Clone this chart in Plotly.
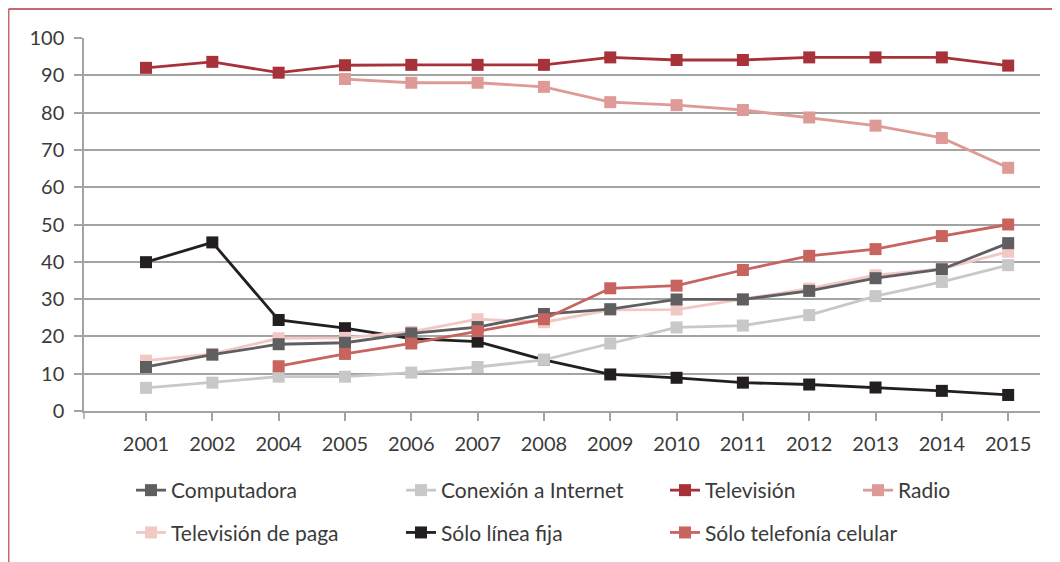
import plotly.graph_objects as go

YEARS = ["2001", "2002", "2004", "2005", "2006", "2007", "2008",
         "2009", "2010", "2011", "2012", "2013", "2014", "2015"]

COMPUTADORA = [11.8, 15.1, 17.9, 18.3, 20.8, 22.5, 26.0, 27.3, 29.9, 29.9, 32.2, 35.6, 38.0, 45.0]
INTERNET    = [6.2, 7.6, 9.2, 9.2, 10.3, 11.8, 13.7, 18.1, 22.4, 22.9, 25.7, 30.8, 34.6, 39.1]
TELEVISION  = [92.0, 93.6, 90.7, 92.7, 92.8, 92.8, 92.8, 94.8, 94.1, 94.1, 94.8, 94.8, 94.8, 92.6]
RADIO       = [None, None, None, 89.0, 88.0, 88.0, 86.9, 82.8, 82.0, 80.7, 78.7, 76.5, 73.2, 65.2]
TV_PAGA     = [13.5, 15.3, 19.5, 19.6, 21.2, 24.6, 23.8, 27.1, 27.2, 30.0, 32.8, 36.4, 38.1, 42.7]
LINEA_FIJA  = [39.9, 45.2, 24.4, 22.2, 19.4, 18.6, 13.7, 9.8, 8.9, 7.6, 7.1, 6.3, 5.4, 4.3]
CELULAR     = [None, None, 12.0, 15.3, 18.1, 21.4, 24.6, 32.9, 33.6, 37.8, 41.6, 43.4, 46.9, 50.0]

FONT = "Lato"
TEXT = "#3a3a3a"
GRID = "#a3a3a3"
FRAME = "#c9686c"

# (name, values, colour, legend column, rank) - listed in drawing order
SERIES = [
    ("Sólo línea fija",          LINEA_FIJA,  "#231f20", "legend2", 2),
    ("Televisión de paga",       TV_PAGA,     "#f2c8c5", "legend",  2),
    ("Conexión a Internet",      INTERNET,    "#c8c8c9", "legend2", 1),
    ("Computadora",              COMPUTADORA, "#5f5f61", "legend",  1),
    ("Sólo telefonía celular",   CELULAR,     "#c8645f", "legend3", 2),
    ("Radio",                    RADIO,       "#de9a96", "legend4", 1),
    ("Televisión",               TELEVISION,  "#a8323a", "legend3", 1),
]

fig = go.Figure()
for name, vals, color, leg, rank in SERIES:
    fig.add_trace(go.Scatter(
        x=YEARS, y=vals, name=name, mode="lines+markers",
        line=dict(color=color, width=2.8),
        marker=dict(symbol="square", size=12, color=color),
        legend=leg, legendrank=rank, legendgroup=name,
        connectgaps=False,
    ))

# the page has an 8px body margin, so the figure is sized to fill the rest
OFF = 8
W, H = 1060 - OFF, 562 - OFF
# plot area in page pixels: x 84..1040, y 38..411
L, R, T, B = 84 - OFF, 1060 - 1040, 38 - OFF, 562 - 411
PW, PH = W - L - R, H - T - B


def px(xp):
    return (xp - OFF - L) / PW


def py(yp):
    return (H - B - (yp - OFF)) / PH


def legend_at(xp):
    return dict(
        x=px(xp), y=py(470), xanchor="left", yanchor="top",
        orientation="v", tracegroupgap=12, bgcolor="rgba(0,0,0,0)",
        font=dict(family=FONT, size=21, color=TEXT),
    )


fig.update_layout(
    width=W, height=H,
    margin=dict(l=L, r=R, t=T, b=B, autoexpand=False),
    paper_bgcolor="white", plot_bgcolor="white",
    font=dict(family=FONT, color=TEXT),
    xaxis=dict(
        type="category", range=[-0.935, 13.48],
        showgrid=False, showline=True, linecolor=GRID, linewidth=1.5,
        ticks="outside", ticklen=8, tickcolor=GRID, tickwidth=1.5,
        tickfont=dict(family=FONT, size=20, color=TEXT),
        ticklabelstandoff=6,
    ),
    yaxis=dict(
        range=[0, 100], dtick=10, showgrid=True, gridcolor=GRID, gridwidth=1.5,
        showline=True, linecolor=GRID, linewidth=1.5, zeroline=False,
        ticks="outside", ticklen=8, tickcolor=GRID, tickwidth=1.5,
        tickfont=dict(family=FONT, size=20, color=TEXT),
        ticklabelstandoff=6,
    ),
    legend=legend_at(131),
    legend2=legend_at(401),
    legend3=legend_at(665),
    legend4=legend_at(858),
    shapes=[
        # red frame (top and left edges)
        dict(type="line", xref="paper", yref="paper",
             x0=px(8.5), x1=px(1062), y0=py(9), y1=py(9),
             line=dict(color=FRAME, width=2)),
        dict(type="line", xref="paper", yref="paper",
             x0=px(8.5), x1=px(8.5), y0=py(9), y1=py(564),
             line=dict(color=FRAME, width=2)),
        # tick at the origin of the category axis
        dict(type="line", xref="paper", yref="paper",
             x0=0, x1=0, y0=0, y1=py(419),
             line=dict(color=GRID, width=1.5)),
    ],
)

fig.write_html("out.html")
